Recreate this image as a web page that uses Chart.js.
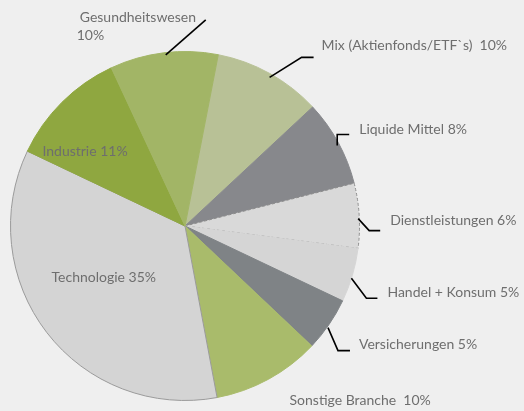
<!DOCTYPE html>
<html>
<head>
<meta charset="utf-8">
<script src="https://cdn.jsdelivr.net/npm/chart.js@4/dist/chart.umd.min.js"></script>
<style>
  html, body { margin: 0; padding: 0; background: #efefef; }
  #wrap { width: 524px; height: 411px; }
</style>
</head>
<body>
<div id="wrap"><canvas id="pieChart" width="524" height="411"></canvas></div>
<script>
// Portfolio split by sector (%)
const sectors = ['Mix (Aktienfonds/ETF`s)', 'Liquide Mittel', 'Dienstleistungen', 'Handel + Konsum',
    'Versicherungen', 'Sonstige Branche', 'Technologie', 'Industrie', 'Gesundheitswesen'];
const shares = [10, 8, 6, 5, 5, 10, 35, 11, 10];

const sliceColors = ['#b8c196', '#87888c', '#d9d9d9', '#d5d5d5', '#7f8386', '#a9bb6b', '#d4d4d4', '#8fa740', '#a2b566'];
const edgeColors  = ['#b8c196', '#87888c', '#8c8c8c', '#d5d5d5', '#7f8386', '#a9bb6b', '#9a9a9a', '#8fa740', '#a2b566'];

// label placement, offsets relative to the slice's outer edge at its middle angle
const labelLayout = [
    { line: [[0, 4], [32, -16], [44, -16]], text: [52, -28], sep: '  ' },
    { line: [[-1, 3], [-1, -8], [11, -8]], text: [21, -13] },
    { line: [[-1, 3], [10, 15], [21, 15]], text: [31, 5] },
    { line: [[-1, 3], [14, 23], [25, 23]], text: [35, 17] },
    { line: [[-1, 3], [9, 26], [21, 26]], text: [30, 20] },
    { text: [21, 21], sep: '  ' },
    { text: [57, -55], align: 'center' },
    { text: [23, 49], align: 'center' },
    { line: [[2, 2], [42, -33]], text: [-84, -35], split: [-87, -17] }
];

const sliceLabels = {
    id: 'sliceLabels',
    afterDatasetsDraw(chart) {
        const ctx = chart.ctx;
        const arcs = chart.getDatasetMeta(0).data;
        ctx.save();
        ctx.font = '14px Lato, "Open Sans", sans-serif';
        ctx.fillStyle = '#6e6e6e';
        ctx.textBaseline = 'middle';
        ctx.strokeStyle = '#000000';
        ctx.lineWidth = 1.6;
        arcs.forEach(function(arc, i) {
            const p = arc.getProps(['x', 'y', 'startAngle', 'endAngle', 'outerRadius'], true);
            const mid = (p.startAngle + p.endAngle) / 2;
            const ex = p.x + Math.cos(mid) * p.outerRadius;
            const ey = p.y + Math.sin(mid) * p.outerRadius;
            const lay = labelLayout[i];
            if (lay.line) {
                ctx.beginPath();
                lay.line.forEach(function(pt, k) {
                    if (k === 0) ctx.moveTo(ex + pt[0], ey + pt[1]);
                    else ctx.lineTo(ex + pt[0], ey + pt[1]);
                });
                ctx.stroke();
            }
            ctx.textAlign = lay.align || 'left';
            const value = shares[i] + '%';
            if (lay.split) {
                ctx.fillText(sectors[i], ex + lay.text[0], ey + lay.text[1]);
                ctx.fillText(value, ex + lay.split[0], ey + lay.split[1]);
            } else {
                ctx.fillText(sectors[i] + (lay.sep || ' ') + value, ex + lay.text[0], ey + lay.text[1]);
            }
        });
        ctx.restore();
    }
};

new Chart(document.getElementById('pieChart').getContext('2d'), {
    type: 'pie',
    data: {
        labels: sectors,
        datasets: [{
            data: shares,
            backgroundColor: sliceColors,
            borderColor: edgeColors,
            borderWidth: 1,
            borderDash: function(c) { return c.dataIndex === 2 ? [3, 2] : []; }
        }]
    },
    options: {
        responsive: false,
        animation: false,
        rotation: 11,
        layout: { padding: { left: 10, right: 164, top: 51, bottom: 10 } },
        plugins: {
            legend: { display: false },
            tooltip: { enabled: false }
        },
        events: []
    },
    plugins: [sliceLabels]
});
</script>
</body>
</html>
